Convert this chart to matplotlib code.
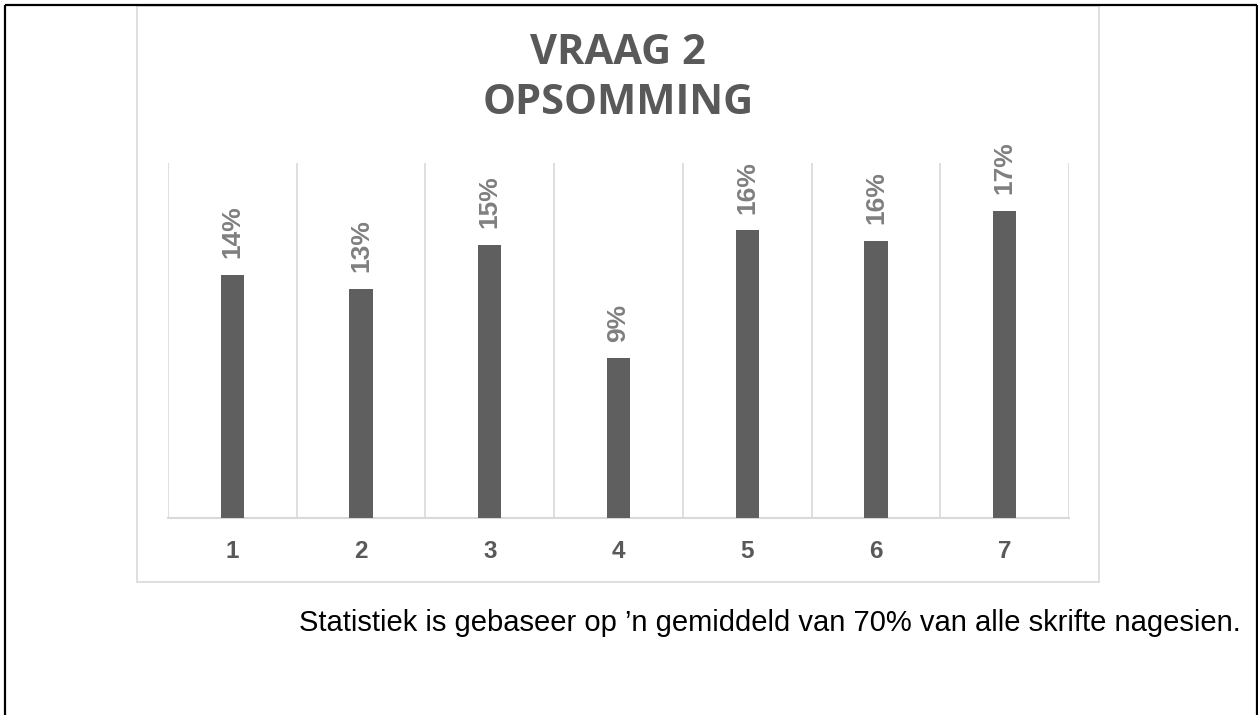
import matplotlib
matplotlib.use("Agg")
import matplotlib.pyplot as plt
from matplotlib.lines import Line2D
from matplotlib.patches import Rectangle

categories = ["1", "2", "3", "4", "5", "6", "7"]
values = [13.7, 12.9, 15.4, 9.0, 16.2, 15.6, 17.3]
title_lines = ["VRAAG 2", "OPSOMMING"]
footnote = "Statistiek is gebaseer op \u2019n gemiddeld van 70% van alle skrifte nagesien."

W, H = 1258, 715
fig = plt.figure(figsize=(W / 100, H / 100), dpi=100)
fig.patch.set_facecolor("white")

def fx(px):
    return px / W

def fy(py):
    return 1 - py / H

# outer black frame (no bottom edge visible)
for xs, ys in [((5, 5), (5, 720)), ((5, 1257), (5, 5)), ((1257, 1257), (5, 720))]:
    fig.add_artist(Line2D([fx(x) for x in xs], [fy(y) for y in ys], color="black",
                          lw=1.6, transform=fig.transFigure, solid_capstyle="butt"))

# chart box
fig.add_artist(Rectangle((fx(137), fy(582)), fx(1099) - fx(137), fy(6) - fy(582),
                         transform=fig.transFigure, fill=False, edgecolor="#d9d9d9", lw=1.2))

ax = fig.add_axes([fx(168), fy(518), fx(1069) - fx(168), fy(163) - fy(518)])
x = list(range(len(categories)))
ax.bar(x, values, width=0.18, color="#5f5f5f", zorder=3)
ax.set_xlim(-0.5, len(categories) - 0.5)
ax.set_ylim(0, 20)
for b in [i - 0.5 for i in range(len(categories) + 1)]:
    ax.axvline(b, color="#d9d9d9", lw=1.2, zorder=1)
for s in ["top", "left", "right"]:
    ax.spines[s].set_visible(False)
ax.spines["bottom"].set_color("#d9d9d9")
ax.spines["bottom"].set_linewidth(1.5)
ax.set_yticks([])
ax.set_xticks(x)
ax.set_xticklabels(categories, fontsize=17.5, fontweight="bold", color="#595959",
                   family="Liberation Sans")
ax.tick_params(axis="x", length=0, pad=16)
ax.patch.set_alpha(0)

for xi, v in zip(x, values):
    ax.annotate(f"{v:.0f}%", (xi, v), xytext=(0, 12), textcoords="offset points",
                rotation=90, ha="center", va="bottom", fontsize=19, fontweight="bold",
                color="#7f7f7f", family="Liberation Sans")

fig.text(fx(618), fy(54), title_lines[0], ha="center", va="center", fontsize=30,
         fontweight="bold", color="#595959", family="Open Sans")
fig.text(fx(618), fy(104), title_lines[1], ha="center", va="center", fontsize=30,
         fontweight="bold", color="#595959", family="Open Sans")

fig.text(fx(1241), fy(623), footnote, ha="right", va="center", fontsize=21,
         color="black", family="Liberation Sans")

fig.savefig("out.png", dpi=100, facecolor="white")
